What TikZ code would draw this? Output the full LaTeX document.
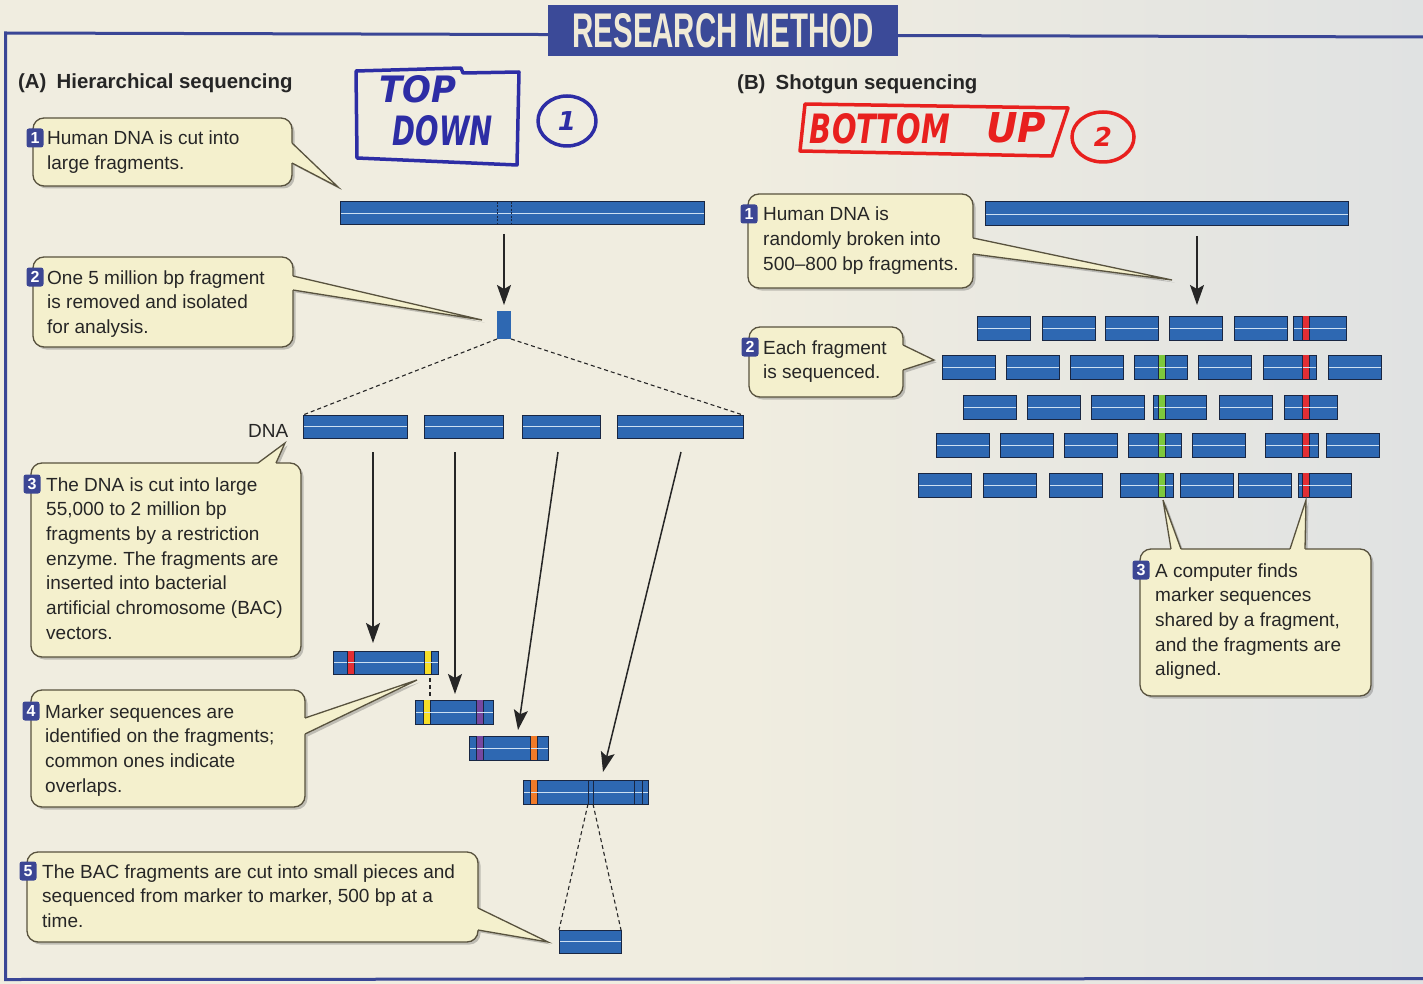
\documentclass[tikz,border=0pt]{standalone}
\usepackage{fontspec}
\setmainfont{Liberation Sans}
\newfontfamily\handfont{DejaVu Sans}
\usetikzlibrary{arrows.meta,calc,shadows}
\frenchspacing

\definecolor{bgcream}{RGB}{240,237,224}
\definecolor{bggray}{RGB}{224,226,226}
\definecolor{framebl}{RGB}{58,70,150}
\definecolor{titlebl}{RGB}{59,74,152}
\definecolor{titletx}{RGB}{240,234,214}
\definecolor{dnablue}{RGB}{46,104,178}
\definecolor{dnaedge}{RGB}{25,38,66}
\definecolor{dnamid}{RGB}{205,224,242}
\definecolor{cfillc}{RGB}{244,240,205}
\definecolor{clinec}{RGB}{88,82,62}
\definecolor{badgec}{RGB}{60,70,148}
\definecolor{inkc}{RGB}{38,38,38}
\definecolor{handblue}{RGB}{45,45,165}
\definecolor{handred}{RGB}{232,32,30}
\definecolor{mkred}{RGB}{226,46,52}
\definecolor{mkyellow}{RGB}{246,222,40}
\definecolor{mkpurple}{RGB}{118,72,160}
\definecolor{mkorange}{RGB}{240,122,40}
\definecolor{mkgreen}{RGB}{125,200,60}

\tikzset{
  dnabar/.style={draw=dnaedge, fill=dnablue, line width=1pt, inner sep=0pt, outer sep=0pt,
    anchor=north west,
    path picture={\draw[dnamid, line width=0.9pt] (path picture bounding box.west) -- (path picture bounding box.east);}},
  blockbar/.style={fill=dnablue, inner sep=0pt, outer sep=0pt, anchor=north west},
  callbox/.style={draw=clinec, fill=cfillc, line width=1.3pt, rounded corners=11pt,
    inner sep=0pt, outer sep=0pt, anchor=north west,
    drop shadow={shadow xshift=2.5pt, shadow yshift=-2.5pt, opacity=0.3, fill=black!70}},
  cline/.style={draw=clinec, line width=1.3pt, line join=miter},
  cshade/.style={fill=black!70, opacity=0.3},
  badge/.style={fill=badgec, text=white, rounded corners=2.5pt, minimum width=17pt,
    minimum height=19pt, inner sep=0pt, font=\bfseries\fontsize{16}{16}\selectfont},
  ctext/.style={text=inkc, inner sep=0pt, font=\fontsize{19}{24}\selectfont},
  headtext/.style={text=inkc, inner sep=0pt, anchor=base west, font=\bfseries\fontsize{20.4}{24}\selectfont},
  arr/.style={draw=inkc, line width=1.5pt, -{Stealth[length=20pt, width=14pt, inset=4pt]}},
  dashln/.style={draw=inkc, line width=1.1pt, dash pattern=on 4pt off 3pt},
  handline/.style={line width=3.5pt, line join=round, line cap=round},
  handtext/.style={inner sep=0pt, font=\handfont\bfseries\itshape},
}

% a DNA bar with its light centre line
\newcommand\dnabar[5]{%
  \node[dnabar, minimum width={#4-#2}, minimum height={#5-#3}] (#1) at (#2,#3) {};}
% a coloured marker band across a bar
\newcommand\bandmark[4]{%
  \fill[#1] (#2-3.5,#3) rectangle (#2+3.5,#4);
  \draw[dnaedge, line width=0.9pt] (#2-3.5,#3) -- (#2-3.5,#4) (#2+3.5,#3) -- (#2+3.5,#4);
  \draw[dnamid, line width=0.9pt] (#2-3.5,{(#3+#4)/2}) -- (#2+3.5,{(#3+#4)/2});}
% callout pointer: base points on the box edge, tip, inward offset
\newcommand\ptrshadow[3]{%
  \fill[cshade] ($#1+(2.5,2.5)$) -- ($#3+(2.5,2.5)$) -- ($#2+(2.5,2.5)$) -- cycle;}
\newcommand\ptr[4]{%
  \fill[cfillc] ($#1+#4$) -- #1 -- #3 -- #2 -- ($#2+#4$) -- cycle;
  \draw[cline] #1 -- #3 -- #2;}
% lines of callout text, one node per line
\newcommand\txtlines[4]{%
  \foreach \thisline [count=\i from 0] in {#4}{%
    \node[ctext, anchor=base west] (#1-\i) at (#2,{#3+24.7*\i}) {\thisline};}}

\begin{document}
\begin{tikzpicture}[x=1pt, y=-1pt]
\useasboundingbox (0,0) rectangle (1423,984);
\fill[bgcream] (0,0) rectangle (1423,984);
\shade[left color=bgcream, right color=bggray] (740,0) rectangle (1423,984);

% frame and title
\draw[framebl, line width=3pt] (1423,37) -- (5.5,33) -- (5.5,979.5) -- (1423,978.5);
\node[fill=titlebl, minimum width=350, minimum height=51, anchor=north west,
      inner sep=0pt, outer sep=0pt] (title) at (548,5) {};
\node[text=titletx, inner sep=0pt] (titletext) at (title.center)
      {\resizebox{301pt}{34pt}{\bfseries RESEARCH METHOD}};

% headings
\node[headtext] (headA) at (18,89) {(A)\enspace Hierarchical sequencing};
\node[headtext] (headB) at (737,90) {(B)\enspace Shotgun sequencing};

% handwritten notes
\draw[handblue, handline] (356,71) -- (461,68) -- (463,73) -- (519,72) -- (517,165) -- (357,158) -- cycle;
\node[handtext, text=handblue] (topword) at (418,89) {\resizebox{77pt}{27pt}{TOP}};
\node[handtext, text=handblue] (downword) at (443,131) {\resizebox{100pt}{30pt}{DOWN}};
\draw[handblue, handline] (567,121) ellipse [x radius=29, y radius=25];
\node[handtext, text=handblue, font=\handfont\bfseries\itshape\fontsize{26}{26}\selectfont] (one) at (567,121) {1};

\draw[handred, handline] (805,104) -- (1068,108) -- (1052,156) -- (800,151) -- cycle;
\node[handtext, text=handred] (bottomword) at (880,129) {\resizebox{140pt}{30pt}{BOTTOM}};
\node[handtext, text=handred] (upword) at (1016,128) {\resizebox{60pt}{30pt}{UP}};
\draw[handred, handline] (1103,137) ellipse [x radius=31, y radius=25];
\node[handtext, text=handred, font=\handfont\bfseries\itshape\fontsize{26}{26}\selectfont] (two) at (1103,137) {2};

% ---------- (A) hierarchical sequencing ----------
\dnabar{bigL}{340}{202}{704}{225}
\draw[dnaedge, line width=1pt, dash pattern=on 2pt off 1.5pt] (497,202) -- (497,225) (511,202) -- (511,225);
\node[blockbar, minimum width=14, minimum height=28] (blk) at (497,311) {};
\draw[arr] ($(bigL.south -| blk.north)+(0,9)$) -- ($(blk.north)+(0,-6)$);

\dnabar{d1}{303}{415}{407}{438}
\dnabar{d2}{424}{415}{503}{438}
\dnabar{d3}{522}{415}{600}{438}
\dnabar{d4}{617}{415}{743}{438}
\draw[dashln] (blk.south west) -- (d1.north west);
\draw[dashln] (blk.south east) -- (d4.north east);
\node[ctext, anchor=base west] (dnalbl) at (248,437) {DNA};

\dnabar{f1}{333}{651}{438}{674}
\bandmark{mkred}{351}{651}{674}
\bandmark{mkyellow}{428}{651}{674}
\dnabar{f2}{415}{700}{493}{724}
\bandmark{mkyellow}{427}{700}{724}
\bandmark{mkpurple}{480}{700}{724}
\dnabar{f3}{469}{736}{548}{760}
\bandmark{mkpurple}{480}{736}{760}
\bandmark{mkorange}{534}{736}{760}
\dnabar{f4}{523}{780}{648}{804}
\bandmark{mkorange}{534}{780}{804}
\draw[dnaedge, line width=1pt] (588,780) -- (588,804) (593,780) -- (593,804)
                               (634,780) -- (634,804) (642,780) -- (642,804);
\draw[dashln] ($(f1.south west)+(97,4)$) -- ($(f2.north west)+(15,-2)$);

\draw[arr] ($(d1.south west)+(70,14)$) -- ($(f1.north west)+(40,-8)$);
\draw[arr] ($(d2.south west)+(31,14)$) -- ($(f2.north west)+(40,-6)$);
\draw[arr] ($(d3.south west)+(36,14)$) -- ($(f3.north west)+(49,-6)$);
\draw[arr] ($(d4.south west)+(64,14)$) -- ($(f4.north west)+(80,-8)$);

\dnabar{piece}{559}{930}{621}{953}
\draw[dashln] ($(f4.south west)+(65,0)$) -- (piece.north west);
\draw[dashln] ($(f4.south west)+(70,0)$) -- (piece.north east);

% ---------- (B) shotgun sequencing ----------
\dnabar{bigR}{985}{202}{1348}{226}
\draw[arr] ($(bigR.south west)+(212,10)$) -- ($(bigR.south west)+(212,79)$);

\foreach \xx [count=\k] in {977,1042,1105,1169,1234,1293} {\dnabar{ra-\k}{\xx}{316}{\xx+53}{340}}
\foreach \xx [count=\k] in {942,1006,1070,1134,1198,1263,1328} {\dnabar{rb-\k}{\xx}{355}{\xx+53}{379}}
\foreach \xx [count=\k] in {963,1027,1091,1153,1219,1284} {\dnabar{rc-\k}{\xx}{395}{\xx+53}{419}}
\foreach \xx [count=\k] in {936,1000,1064,1128,1192,1265,1326} {\dnabar{rd-\k}{\xx}{433}{\xx+53}{457}}
\foreach \xx [count=\k] in {918,983,1049,1120,1180,1238,1298} {\dnabar{re-\k}{\xx}{473}{\xx+53}{497}}
\bandmark{mkred}{1306}{316}{340}
\bandmark{mkgreen}{1162}{355}{379}
\bandmark{mkred}{1306}{355}{379}
\bandmark{mkgreen}{1162}{395}{419}
\bandmark{mkred}{1306}{395}{419}
\bandmark{mkgreen}{1162}{433}{457}
\bandmark{mkred}{1306}{433}{457}
\bandmark{mkgreen}{1162}{473}{497}
\bandmark{mkred}{1306}{473}{497}

% ---------- callouts ----------
% A1
\ptrshadow{(292,143)}{(292,163)}{(338,187)}
\node[callbox, minimum width=259, minimum height=68] (cA1) at (33,118) {};
\ptr{(292,143)}{(292,163)}{(338,187)}{(-3,0)}
\node[badge] (bA1) at (35,138) {1};
\txtlines{tA1}{47}{145}{{Human DNA is cut into},{large fragments.}}

% A2
\ptrshadow{(293,276)}{(293,290)}{(482,320)}
\node[callbox, minimum width=260, minimum height=90] (cA2) at (33,257) {};
\ptr{(293,276)}{(293,290)}{(482,320)}{(-3,0)}
\node[badge] (bA2) at (35,277) {2};
\txtlines{tA2}{47}{284}{{One 5 million bp fragment},{is removed and isolated},{for analysis.}}

% A3
\ptrshadow{(258,463)}{(276,463)}{(285,443)}
\node[callbox, minimum width=270, minimum height=194] (cA3) at (31,463) {};
\ptr{(258,463)}{(276,463)}{(285,443)}{(0,3)}
\node[badge] (bA3) at (32,484) {3};
\txtlines{tA3}{46}{491}{{The DNA is cut into large},{55,000 to 2 million bp},{fragments by a restriction},{enzyme. The fragments are},{inserted into bacterial},{artificial chromosome (BAC)},{vectors.}}

% A4
\ptrshadow{(305,718)}{(305,734)}{(417,680)}
\node[callbox, minimum width=274, minimum height=117] (cA4) at (31,690) {};
\ptr{(305,718)}{(305,734)}{(417,680)}{(-3,0)}
\node[badge] (bA4) at (31,711) {4};
\txtlines{tA4}{45}{718}{{Marker sequences are},{identified on the fragments;},{common ones indicate},{overlaps.}}

% A5
\ptrshadow{(478,908)}{(478,930)}{(548,942)}
\node[callbox, minimum width=451, minimum height=90] (cA5) at (27,852) {};
\ptr{(478,908)}{(478,930)}{(548,942)}{(-3,0)}
\node[badge] (bA5) at (28,871) {5};
\txtlines{tA5}{42}{878}{{The BAC fragments are cut into small pieces and},{sequenced from marker to marker, 500 bp at a},{time.}}

% B1
\ptrshadow{(973,238)}{(973,254)}{(1172,280)}
\node[callbox, minimum width=225, minimum height=94] (cB1) at (748,194) {};
\ptr{(973,238)}{(973,254)}{(1172,280)}{(-3,0)}
\node[badge] (bB1) at (749,214) {1};
\txtlines{tB1}{763}{221}{{Human DNA is},{randomly broken into},{500--800 bp fragments.}}

% B2
\ptrshadow{(903,345)}{(903,370)}{(934,360)}
\node[callbox, minimum width=154, minimum height=70] (cB2) at (749,327) {};
\ptr{(903,345)}{(903,370)}{(934,360)}{(-3,0)}
\node[badge] (bB2) at (750,347) {2};
\txtlines{tB2}{763}{354}{{Each fragment},{is sequenced.}}

% B3
\ptrshadow{(1171,549)}{(1181,549)}{(1163,500)}
\ptrshadow{(1290,549)}{(1305,549)}{(1306,500)}
\node[callbox, minimum width=231, minimum height=147] (cB3) at (1140,549) {};
\ptr{(1171,549)}{(1181,549)}{(1163,500)}{(0,3)}
\ptr{(1290,549)}{(1305,549)}{(1306,500)}{(0,3)}
\node[badge] (bB3) at (1141,570) {3};
\txtlines{tB3}{1155}{577}{{A computer finds},{marker sequences},{{shared by a fragment,}},{and the fragments are},{aligned.}}
\end{tikzpicture}
\end{document}
